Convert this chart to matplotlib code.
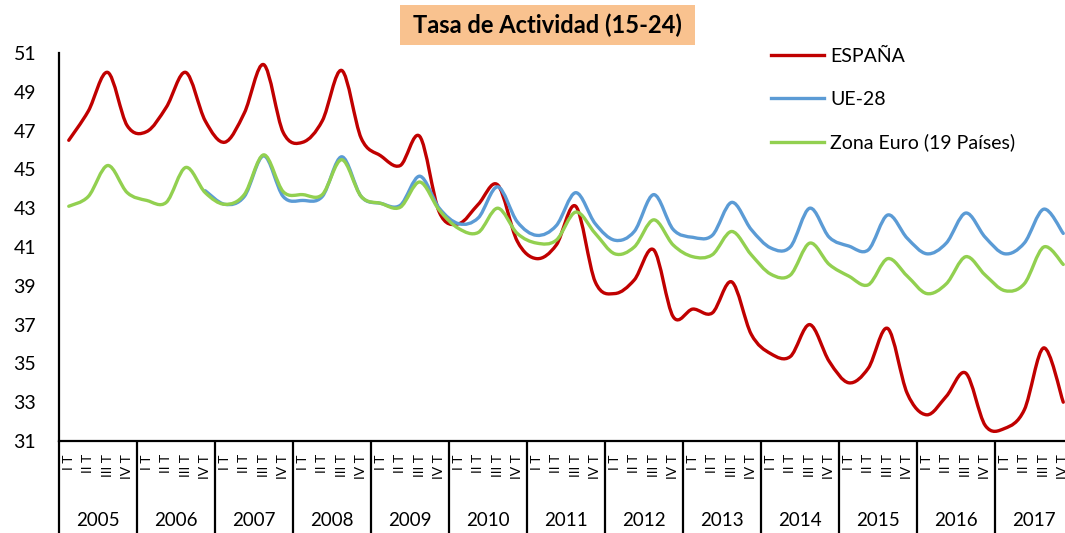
import numpy as np
import matplotlib
matplotlib.use("Agg")
import matplotlib.pyplot as plt
from matplotlib.path import Path
from matplotlib.patches import PathPatch, Rectangle
from matplotlib.lines import Line2D
import matplotlib.transforms as mtransforms

plt.rcParams['font.family'] = ['Lato', 'DejaVu Sans']

title = "Tasa de Actividad (15-24)"
years = [str(y) for y in range(2005, 2018)]
quarter_labels = ["I T", "II T", "III T", "IV T"]
series_names = ["ESPAÑA", "UE-28", "Zona Euro (19 Países)"]

espana = [46.5, 48.0, 50.0, 47.25,
          46.95, 48.2, 50.0, 47.5,
          46.4, 47.9, 50.4, 46.9,
          46.4, 47.5, 50.1, 46.6,
          45.7, 45.2, 46.7, 42.8,
          42.2, 43.2, 44.2, 41.3,
          40.4, 41.1, 43.1, 39.2,
          38.6, 39.3, 40.85, 37.4,
          37.8, 37.6, 39.2, 36.5,
          35.5, 35.35, 37.0, 35.1,
          34.0, 34.75, 36.8, 33.45,
          32.35, 33.3, 34.5, 31.8,
          31.65, 32.6, 35.8, 33.0]

ue28 = [None, None, None, None,
        None, None, None, 43.9,
        43.2, 43.6, 45.7, 43.6,
        43.4, 43.6, 45.65, 43.6,
        43.25, 43.15, 44.65, 43.0,
        42.2, 42.5, 44.1, 42.3,
        41.6, 42.1, 43.8, 42.2,
        41.35, 41.8, 43.7, 41.9,
        41.5, 41.6, 43.3, 41.9,
        40.95, 41.0, 43.0, 41.5,
        41.05, 40.85, 42.65, 41.45,
        40.65, 41.2, 42.75, 41.5,
        40.65, 41.2, 42.95, 41.7]

zona_euro = [43.1, 43.6, 45.2, 43.8,
             43.4, 43.3, 45.1, 43.8,
             43.2, 43.7, 45.75, 43.85,
             43.7, 43.7, 45.5, 43.6,
             43.25, 43.05, 44.35, 42.9,
             41.95, 41.75, 43.0, 41.7,
             41.2, 41.35, 42.8, 41.7,
             40.65, 41.0, 42.4, 41.1,
             40.5, 40.6, 41.8, 40.6,
             39.6, 39.55, 41.2, 40.1,
             39.5, 39.05, 40.4, 39.5,
             38.6, 39.1, 40.5, 39.55,
             38.75, 39.1, 41.0, 40.1]

colors = ["#C00000", "#5B9BD5", "#92D050"]

W, H = 1065, 533
fig = plt.figure(figsize=(W / 100, H / 100), dpi=100)
ax_left, ax_right, ax_top, ax_bot = 59, 1073, 53, 441
ax = fig.add_axes([ax_left / W, (H - ax_bot) / H,
                   (ax_right - ax_left) / W, (ax_bot - ax_top) / H])

n = len(espana)
ax.set_xlim(-0.5, n - 0.5)
ax.set_ylim(31, 51)


def smooth_path(xs, ys):
    pts = np.array([(x, y) for x, y in zip(xs, ys) if y is not None], dtype=float)
    verts = [tuple(pts[0])]
    codes = [Path.MOVETO]
    m = len(pts)
    for i in range(m - 1):
        p0 = pts[i - 1] if i > 0 else pts[i]
        p1 = pts[i]
        p2 = pts[i + 1]
        p3 = pts[i + 2] if i + 2 < m else pts[i + 1]
        c1 = p1 + (p2 - p0) / 6.0
        c2 = p2 - (p3 - p1) / 6.0
        verts += [tuple(c1), tuple(c2), tuple(p2)]
        codes += [Path.CURVE4] * 3
    return Path(verts, codes)


xs = np.arange(n)
for i, (vals, col) in enumerate(zip([espana, ue28, zona_euro], colors)):
    patch = PathPatch(smooth_path(xs, vals), facecolor='none', edgecolor=col,
                      lw=2.4, capstyle='round', joinstyle='round', zorder=2 + i)
    ax.add_patch(patch)

# axes styling
for s in ['top', 'right']:
    ax.spines[s].set_visible(False)
for s in ['left', 'bottom']:
    ax.spines[s].set_linewidth(1.6)
    ax.spines[s].set_color('black')
ax.set_yticks(np.arange(31, 52, 2))
ax.tick_params(axis='y', length=0, pad=16.5, labelsize=14)
ax.set_xticks([])

# multi-level category axis
trans = mtransforms.blended_transform_factory(ax.transData, ax.transAxes)
ax_h = ax_bot - ax_top
y_bottom = -(H - ax_bot) / ax_h
for k in range(len(years) + 1):
    xb = -0.5 + 4 * k
    ax.plot([xb, xb], [0, y_bottom], transform=trans, color='black', lw=1.6,
            clip_on=False, solid_capstyle='butt')
for k, yr in enumerate(years):
    ax.text(1.5 + 4 * k, -(520 - ax_bot) / ax_h, yr, transform=trans,
            ha='center', va='center', fontsize=13.5, clip_on=False)
    for q, ql in enumerate(quarter_labels):
        ax.text(4 * k + q, -(454 - ax_bot) / ax_h, ql, transform=trans,
                ha='center', va='top', rotation=90, fontsize=10,
                clip_on=False)

# title
fig.add_artist(Rectangle((400 / W, 1 - 45 / H), 295 / W, 40 / H,
                         transform=fig.transFigure, facecolor='#F9C28F',
                         edgecolor='none'))
fig.text(547.5 / W, 1 - 25.5 / H, title, ha='center', va='center',
         fontsize=17, fontweight='bold')

# legend
handles = [Line2D([0], [0], color=c, lw=2.4) for c in colors]
fig.legend(handles, series_names, loc='upper left',
           bbox_to_anchor=(771 / W, 1 - 48 / H), bbox_transform=fig.transFigure,
           frameon=False, fontsize=14, handlelength=2.75, handletextpad=0.3,
           labelspacing=1.32, borderpad=0, borderaxespad=0)

fig.savefig("out.png", dpi=100)
